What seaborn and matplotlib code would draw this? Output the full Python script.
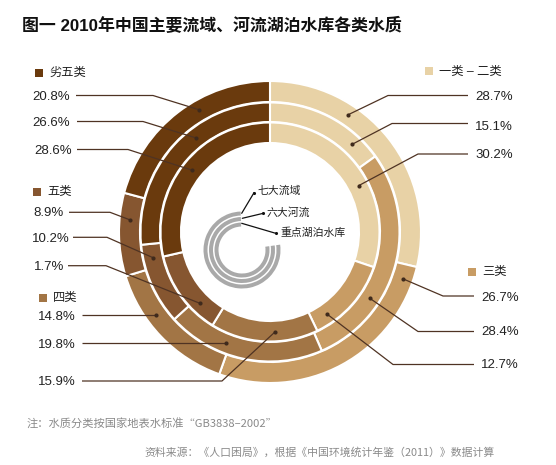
import matplotlib
matplotlib.use("Agg")
import matplotlib.pyplot as plt
from matplotlib.patches import Wedge
import numpy as np
import seaborn as sns

# ---------------- data ----------------
categories = ["一类 – 二类", "三类", "四类", "五类", "劣五类"]
ring_names = ["七大流域", "六大河流", "重点湖泊水库"]
seven_basins = [28.7, 26.7, 14.8, 8.9, 20.8]
six_rivers = [15.1, 28.4, 19.8, 10.2, 26.6]
lakes = [30.2, 12.7, 15.9, 12.6, 28.6]          # share as drawn in the picture
lakes_printed = ["30.2%", "12.7%", "15.9%", "1.7%", "28.6%"]  # labels as printed
title = "图一 2010年中国主要流域、河流湖泊水库各类水质"
note = "注：水质分类按国家地表水标准“GB3838–2002”"
source = "资料来源：《人口困局》，根据《中国环境统计年鉴（2011）》数据计算"

colors = sns.color_palette(["#E8D2A6", "#C89C64", "#A27545", "#865630", "#6A3A0D"])

# ---------------- style ----------------
sns.set_theme(style="white")
FAM = ["Liberation Sans", "Noto Sans CJK SC", "DejaVu Sans"]
CJK = ["Noto Sans CJK SC", "DejaVu Sans"]
plt.rcParams["font.family"] = FAM

W, H = 556, 465
fig = plt.figure(figsize=(W / 100, H / 100), dpi=100)
ax = fig.add_axes([0, 0, 1, 1])

def Y(py):  # pixel y (top-down) -> data y
    return H - py

CX, CY = 270, 232
ring_geom = [(151, 21), (129.5, 19.5), (109.5, 20.5)]  # outer radius, width
ring_values = [seven_basins, six_rivers, lakes]
ring_labels = [[f"{v}%" for v in seven_basins], [f"{v}%" for v in six_rivers], lakes_printed]

for vals, (r, w) in zip(ring_values, ring_geom):
    ax.pie(vals, colors=colors, startangle=90, counterclock=False,
           radius=r, center=(CX, Y(CY)), frame=False,
           wedgeprops=dict(width=w, edgecolor="white", linewidth=1.5))

# ---------------- leader lines ----------------
dot_r = [141, 120, 100]
LINE_C = "#4f3323"
TXT_C = "#222222"
# (ring, category index, dot angle clockwise from top, text x, text y, ha, line x near text, elbow x, line y)
layout = [
    (0, 4, 330.0, 32, 97.5, "left", 76, 153, 95.5),
    (1, 4, 321.7, 32, 123.5, "left", 77, 143, 121.5),
    (2, 4, 308.3, 34, 151, "left", 77, 128, 149.5),
    (0, 3, 275.0, 33, 213, "left", 69, 110, 212.3),
    (1, 3, 257.7, 32, 239.5, "left", 73, 107, 237.3),
    (2, 3, 224.5, 34, 267.5, "left", 68, 106, 265.7),
    (0, 2, 234.1, 38, 317, "left", 82, None, None),
    (1, 2, 201.7, 38, 345, "left", 82, None, None),
    (2, 2, 177.1, 38, 382, "left", 82, 222, 381),
    (0, 0, 33.7, 475, 97.5, "left", 468, 388, 95.5),
    (1, 0, 43.1, 475, 127, "left", 468, 392, 123.5),
    (2, 0, 62.4, 475, 155, "left", 468, 418, 154),
    (0, 1, 109.4, 481, 298, "left", 474, 443, 296),
    (1, 1, 123.6, 481, 332, "left", 474, 418, 331.5),
    (2, 1, 145.2, 481, 365, "left", 474, 393, 364.5),
]
for ring, ci, ang, tx, ty, ha, lx, ex, ly in layout:
    th = np.deg2rad(ang)
    dx = CX + dot_r[ring] * np.sin(th)
    dy = CY - dot_r[ring] * np.cos(th)
    if ex is None:
        xs, ys = [lx, dx], [dy, dy]
    else:
        xs, ys = [lx, ex, dx], [ly, ly, dy]
    ax.plot(xs, [Y(v) for v in ys], color=LINE_C, lw=0.9, solid_capstyle="butt", zorder=5)
    ax.scatter([dx], [Y(dy)], s=9, color="#3f2a1c", zorder=6, linewidths=0)
    ax.text(tx, Y(ty), ring_labels[ring][ci], ha=ha, va="center",
            fontsize=9.5, color=TXT_C, family=FAM)

# ---------------- legend entries ----------------
legend_pos = [(425, 71.5), (468, 271.5), (39, 298), (33, 192), (35, 73)]  # square left x, centre y
for ci, (sx, sy) in enumerate(legend_pos):
    ax.add_patch(plt.Rectangle((sx, Y(sy) - 4), 8, 8, color=colors[ci], lw=0))
    ax.text(sx + 14, Y(sy), categories[ci], ha="left", va="center",
            fontsize=8.8, color="#222222", family=FAM)

# ---------------- centre icon ----------------
IX, IY = 242, 250
for r in (38.5, 33.0, 27.5):
    ax.add_patch(Wedge((IX, Y(IY)), r, 92, 368, width=4.0, color="#A9A9A9", lw=0))
icon_lines = [((241.7, 213.3), (254, 192.7), (257.5, 190.5)),
              ((242.3, 218.3), (263.3, 213.3), (267, 212.5)),
              ((241.7, 223.3), (275.7, 233.3), (280, 233))]
for ((x0, y0), (x1, y1), (tx, ty)), name in zip(icon_lines, ring_names):
    ax.plot([x0, x1], [Y(y0), Y(y1)], color="#111111", lw=0.9, zorder=5)
    ax.scatter([x1], [Y(y1)], s=5, color="#111111", zorder=6, linewidths=0)
    ax.text(tx, Y(ty), name, ha="left", va="center", fontsize=7.8,
            color="#222222", family=FAM)

# ---------------- titles / notes ----------------
ax.text(22, Y(25), title, ha="left", va="center", fontsize=12.2,
        fontweight="bold", color="#111111", family=FAM)
ax.text(27, Y(423), note, ha="left", va="center", fontsize=8.1,
        color="#8a8a8a", family=CJK)
ax.text(495, Y(453), source, ha="right", va="center", fontsize=7.8,
        color="#8a8a8a", family=CJK)

ax.set_xlim(0, W)
ax.set_ylim(0, H)
ax.set_aspect("auto")
ax.axis("off")
fig.savefig("out.png", dpi=100, facecolor="white")
